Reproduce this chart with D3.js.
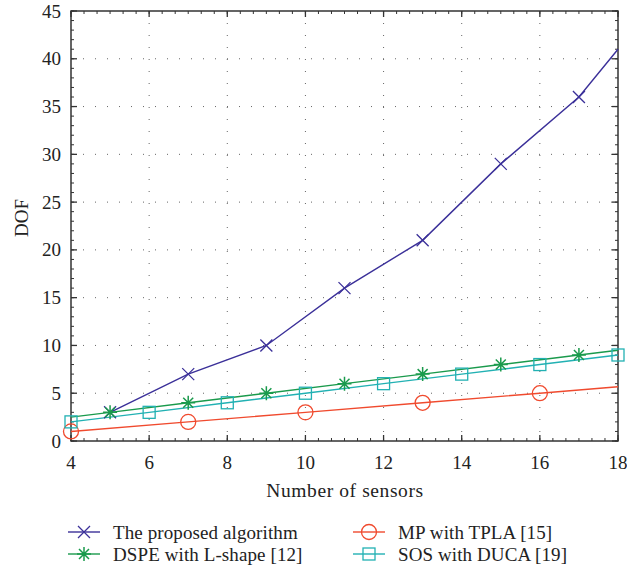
<!DOCTYPE html>
<html><head><meta charset="utf-8">
<script src="https://cdn.jsdelivr.net/npm/d3@7"></script>
<style>body{margin:0;background:#fff}svg{display:block}text{font-family:"Liberation Serif","DejaVu Serif",serif;fill:#222}</style>
</head><body>
<script>
// Data
const xTicks = [4,6,8,10,12,14,16,18];
const yTicks = [0,5,10,15,20,25,30,35,40,45];
const seriesNames = ["The proposed algorithm","DSPE with L-shape [12]","MP with TPLA [15]","SOS with DUCA [19]"];
const proposedX = [5,7,9,11,13,15,17,18];
const proposedY = [3,7,10,16,21,29,36,41];
const proposedMarkX = [5,7,9,11,13,15,17];
const dspeX = [4,5,7,9,11,13,15,17,18];
const dspeY = [2.5,3,4,5,6,7,8,9,9.5];
const dspeMarkX = [5,7,9,11,13,15,17];
const mpX = [4,7,10,13,16,18];
const mpY = [1,2,3,4,5,5.67];
const mpMarkX = [4,7,10,13,16];
const sosX = [4,6,8,10,12,14,16,18];
const sosY = [2,3,4,5,6,7,8,9];
const sosMarkX = [4,6,8,10,12,14,16,18];

const W=627,H=577, L=71,R=618,T=11,B=441;
const svg=d3.select("body").append("svg").attr("width",W).attr("height",H);
const x=d3.scaleLinear().domain([4,18]).range([L,R]);
const y=d3.scaleLinear().domain([0,45]).range([B,T]);

// grid
const g=svg.append("g");
g.selectAll(".gx").data(xTicks.slice(1,-1)).enter().append("line")
 .attr("x1",d=>x(d)).attr("x2",d=>x(d)).attr("y1",T).attr("y2",B)
 .attr("stroke","#666").attr("stroke-width",1).attr("stroke-dasharray","1,11");
g.selectAll(".gy").data(yTicks.slice(1,-1)).enter().append("line")
 .attr("y1",d=>y(d)).attr("y2",d=>y(d)).attr("x1",L).attr("x2",R)
 .attr("stroke","#666").attr("stroke-width",1).attr("stroke-dasharray","1,11");

// axes with inward ticks on all sides
const minorX=d3.range(4,18.001,1/3), minorY=d3.range(0,45.001,1);
const ax=svg.append("g").attr("stroke","#333");
function tk(vals,len,sw){
  vals.forEach(v=>{
    ax.append("line").attr("x1",x(v)).attr("x2",x(v)).attr("y1",B).attr("y2",B-len).attr("stroke-width",sw);
    ax.append("line").attr("x1",x(v)).attr("x2",x(v)).attr("y1",T).attr("y2",T+len).attr("stroke-width",sw);
  });
}
function tky(vals,len,sw){
  vals.forEach(v=>{
    ax.append("line").attr("y1",y(v)).attr("y2",y(v)).attr("x1",L).attr("x2",L+len).attr("stroke-width",sw);
    ax.append("line").attr("y1",y(v)).attr("y2",y(v)).attr("x1",R).attr("x2",R-len).attr("stroke-width",sw);
  });
}
tk(minorX,3,1); tk(xTicks,6,1.3); tky(minorY,3,1); tky(yTicks,6,1.3);
svg.append("rect").attr("x",L).attr("y",T).attr("width",R-L).attr("height",B-T)
 .attr("fill","none").attr("stroke","#333").attr("stroke-width",1.5);

// tick labels
svg.selectAll(".xl").data(xTicks).enter().append("text").attr("x",d=>x(d)).attr("y",469)
 .attr("text-anchor","middle").attr("font-size",19).text(d=>d);
svg.selectAll(".yl").data(yTicks).enter().append("text").attr("x",61).attr("y",d=>y(d)+6.5)
 .attr("text-anchor","end").attr("font-size",19).text(d=>d);
svg.append("text").attr("x",345).attr("y",497).attr("text-anchor","middle").attr("font-size",19.5).attr("letter-spacing",0.6).text("Number of sensors");
svg.append("text").attr("transform","translate(28,218) rotate(-90)").attr("text-anchor","middle").attr("font-size",19).text("DOF");

const colors=["#3b3099","#1a9a4c","#f04a2e","#22b1b3"];
const line=d3.line().x(d=>x(d[0])).y(d=>y(d[1]));
const series=[
 {xs:proposedX,ys:proposedY,mk:proposedMarkX,type:"x"},
 {xs:dspeX,ys:dspeY,mk:dspeMarkX,type:"star"},
 {xs:mpX,ys:mpY,mk:mpMarkX,type:"circle"},
 {xs:sosX,ys:sosY,mk:sosMarkX,type:"square"}];
function marker(sel,type,cx,cy,c){
  const gg=sel.append("g").attr("transform",`translate(${cx},${cy})`).attr("stroke",c).attr("fill","none").attr("stroke-width",1.3);
  if(type==="x"){gg.append("path").attr("d","M-6,-6L6,6M-6,6L6,-6");}
  else if(type==="star"){gg.append("path").attr("d","M-7,0L7,0M0,-7L0,7M-5,-5L5,5M-5,5L5,-5").attr("stroke-width",1.5);}
  else if(type==="circle"){gg.append("circle").attr("r",7.5);}
  else {gg.append("rect").attr("x",-6).attr("y",-6).attr("width",12).attr("height",12);}
}
const plot=svg.append("g");
series.forEach((s,i)=>{
  const pts=s.xs.map((v,j)=>[v,s.ys[j]]);
  plot.append("path").attr("d",line(pts)).attr("fill","none").attr("stroke",colors[i]).attr("stroke-width",1.4);
});
series.forEach((s,i)=>{
  s.mk.forEach(m=>{const j=s.xs.indexOf(m); marker(plot,s.type,x(m),y(s.ys[j]),colors[i]);});
});

// legend
const legPos=[[68,532],[68,554],[353,532],[353,554]];
[0,1,2,3].forEach((i,k)=>{
  const [lx,ly]=legPos[k];
  svg.append("line").attr("x1",lx).attr("x2",lx+32).attr("y1",ly).attr("y2",ly).attr("stroke",colors[i]).attr("stroke-width",1.4);
  marker(svg,series[i].type,lx+16,ly,colors[i]);
  svg.append("text").attr("x",lx+45).attr("y",ly+6.5).attr("font-size",19).attr("letter-spacing",0.1).text(seriesNames[i]);
});
</script>
</body></html>
